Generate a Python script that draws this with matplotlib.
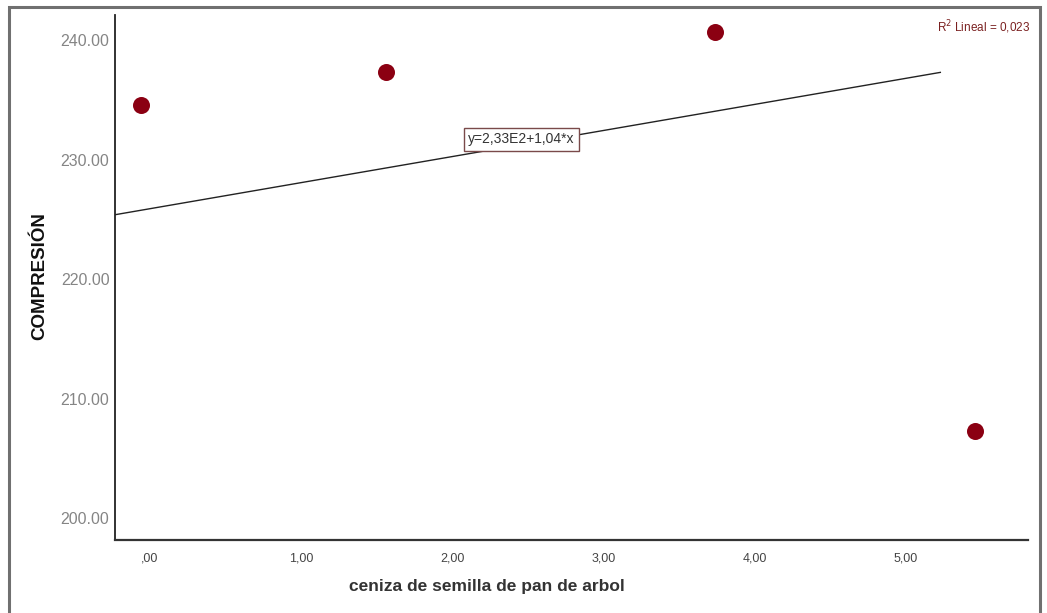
import matplotlib
matplotlib.use("Agg")
import matplotlib.pyplot as plt
from matplotlib.patches import Rectangle

plt.rcParams["font.family"] = ["Liberation Sans", "DejaVu Sans"]

# Data
ceniza = [-0.06, 1.56, 3.74, 5.46]
compresion = [234.6, 237.3, 240.7, 207.3]
fit_x = [-0.23, 5.23]
fit_intercept = 225.9
fit_slope = 2.18
x_ticks = [0, 1, 2, 3, 4, 5]
x_ticklabels = [",00", "1,00", "2,00", "3,00", "4,00", "5,00"]
y_ticks = [200, 210, 220, 230, 240]
y_ticklabels = ["200.00", "210.00", "220.00", "230.00", "240.00"]
equation_text = "y=2,33E2+1,04*x"
r2_text = "R$^2$ Lineal = 0,023"

fig = plt.figure(figsize=(10.47, 6.13), dpi=100)
ax = fig.add_axes([115 / 1047, 1 - 540 / 613, (1028 - 115) / 1047, (540 - 15) / 613])

# outer frame
fig.patches.append(Rectangle((9 / 1047, -0.05), (1040 - 9) / 1047, 1.05 - 7 / 613,
                             transform=fig.transFigure, fill=False,
                             edgecolor="#707070", linewidth=2.2))

ax.scatter(ceniza, compresion, s=150, color="#8B0012", zorder=3, linewidths=0)
fit_y = [fit_intercept + fit_slope * v for v in fit_x]
ax.plot(fit_x, fit_y, color="#222222", linewidth=1.0, zorder=2)

ax.set_xlim(-0.23, 5.81)
ax.set_ylim(198.2, 242.1)
ax.set_xticks(x_ticks)
ax.set_xticklabels(x_ticklabels, fontsize=9, color="#444444")
ax.set_yticks(y_ticks)
ax.set_yticklabels(y_ticklabels, fontsize=11.5, color="#858585")
ax.tick_params(length=0, pad=4)
ax.tick_params(axis="x", pad=9)
for s in ["top", "right"]:
    ax.spines[s].set_visible(False)
ax.spines["left"].set_color("#222222")
ax.spines["bottom"].set_color("#333333")
ax.spines["left"].set_linewidth(1.3)
ax.spines["bottom"].set_linewidth(1.6)

ax.text(2.46, 231.7, equation_text, fontsize=10, color="#333333", ha="center", va="center",
        bbox=dict(boxstyle="square,pad=0.3", facecolor="white", edgecolor="#7a4a4a", linewidth=1.0),
        zorder=4)

fig.text(1030 / 1047, 1 - 27 / 613, r2_text, fontsize=8.5, color="#7a2020", ha="right", va="center")

fig.text(487 / 1047, 1 - 586 / 613, "ceniza de semilla de pan de arbol", fontsize=12.5,
         fontweight="bold", color="#333333", ha="center", va="center")
fig.text(40 / 1047, 1 - 276 / 613, "COMPRESIÓN", fontsize=13.5, fontweight="bold",
         color="#111111", rotation=90, ha="center", va="center")

fig.savefig("out.png", dpi=100)
